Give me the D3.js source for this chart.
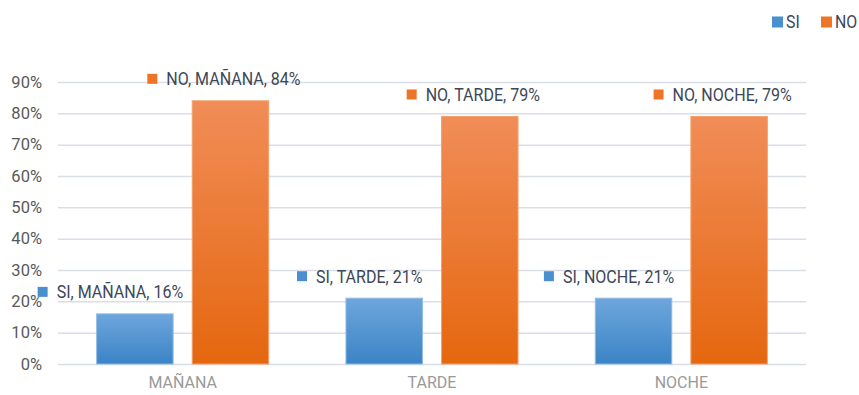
<!DOCTYPE html>
<html>
<head>
<meta charset="utf-8">
<script src="https://cdn.jsdelivr.net/npm/d3@7"></script>
<style>
  html, body { margin: 0; padding: 0; background: #fff; }
  svg { display: block; }
</style>
</head>
<body>
<svg id="chart" width="859" height="395"></svg>
<script>
// Turno del día y respuesta (SI / NO), en porcentaje
const categories = ["MAÑANA", "TARDE", "NOCHE"];
const seriesNames = ["SI", "NO"];
const siValues = [16, 21, 21];
const noValues = [84, 79, 79];
const yTicks = [0, 10, 20, 30, 40, 50, 60, 70, 80, 90];

const W = 859, H = 395;
const margin = { top: 82, right: 53, bottom: 31, left: 58 };
const svg = d3.select("#chart");
const innerW = W - margin.left - margin.right;
const innerH = H - margin.top - margin.bottom;
const font = "Roboto, 'Noto Sans', sans-serif";
const inkColor = "#3e4757";

const x = d3.scaleBand().domain(categories).range([margin.left, margin.left + innerW]).paddingInner(0.31).paddingOuter(0.155);
const xs = d3.scaleBand().domain(seriesNames).range([0, x.bandwidth()]).paddingInner(0.2);
const y = d3.scaleLinear().domain([0, 90]).range([margin.top + innerH, margin.top]);

const colors = {
  SI: { top: "#6ea6dc", bottom: "#3b84c6", mark: "#4a8fd0", edge: "#8dbbe6" },
  NO: { top: "#f18d58", bottom: "#e5670f", mark: "#ee7427", edge: "#f3a06c" }
};

// Condensed look: squeeze text horizontally to a given ratio of its natural width
function condense(sel, ratio) {
  sel.each(function() {
    const w = this.getComputedTextLength();
    d3.select(this).attr("textLength", w * ratio).attr("lengthAdjust", "spacingAndGlyphs");
  });
}

const defs = svg.append("defs");
seriesNames.forEach(s => {
  const g = defs.append("linearGradient").attr("id", "grad-" + s)
    .attr("x1", 0).attr("y1", 0).attr("x2", 0).attr("y2", 1);
  g.append("stop").attr("offset", "0%").attr("stop-color", colors[s].top);
  g.append("stop").attr("offset", "100%").attr("stop-color", colors[s].bottom);
});

// Gridlines and y tick labels
const yAxis = d3.axisLeft(y).tickValues(yTicks).tickFormat(d => d + "%").tickSize(-innerW).tickPadding(16);
const ga = svg.append("g").attr("transform", `translate(${margin.left},0)`).call(yAxis);
ga.select(".domain").remove();
ga.selectAll(".tick line").attr("stroke", "#d9dee8").attr("stroke-width", 1.5);
ga.selectAll(".tick text").attr("fill", "#595959").style("font-family", font).style("font-size", "16.5px");

// Category labels
const xAxis = d3.axisBottom(x).tickSize(0).tickPadding(13);
const gx = svg.append("g").attr("transform", `translate(0,${margin.top + innerH})`).call(xAxis);
gx.select(".domain").remove();
gx.selectAll(".tick text").attr("fill", "#9a9a9a").style("font-family", font).style("font-size", "16px");

const data = [];
categories.forEach((c, i) => {
  data.push({ cat: c, series: "SI", value: siValues[i] });
  data.push({ cat: c, series: "NO", value: noValues[i] });
});

// Bars
svg.append("g").selectAll("rect").data(data).join("rect")
  .attr("x", d => x(d.cat) + xs(d.series))
  .attr("y", d => y(d.value))
  .attr("width", xs.bandwidth())
  .attr("height", d => y(0) - y(d.value))
  .attr("fill", d => `url(#grad-${d.series})`)
  .attr("stroke", d => colors[d.series].edge)
  .attr("stroke-width", 1);

// Data labels with small colour markers
const labelShift = { SI: -24, NO: -6 };
const lg = svg.append("g").selectAll("g").data(data).join("g")
  .attr("transform", d => `translate(${x(d.cat) + xs(d.series) + xs.bandwidth() / 2 + labelShift[d.series]},${y(d.value) - 22})`);
lg.append("text")
  .attr("text-anchor", "middle")
  .attr("dx", 9)
  .attr("dy", "0.36em")
  .attr("fill", inkColor)
  .style("font-family", font)
  .style("font-size", "18px")
  .text(d => `${d.series}, ${d.cat}, ${d.value}%`)
  .call(condense, 0.89);
lg.each(function(d) {
  const g = d3.select(this);
  const bb = g.select("text").node().getBBox();
  g.append("rect")
    .attr("x", bb.x - 19).attr("y", -5)
    .attr("width", 10).attr("height", 10)
    .attr("fill", colors[d.series].mark);
});

// Legend
const legend = svg.append("g").attr("transform", "translate(772,22)");
const legendItems = legend.selectAll("g").data(seriesNames).join("g")
  .attr("transform", (d, i) => `translate(${i * 49},0)`);
legendItems.append("rect").attr("x", 0).attr("y", -5.5).attr("width", 11).attr("height", 11)
  .attr("fill", d => colors[d].mark);
legendItems.append("text").attr("x", 14).attr("dy", "0.36em")
  .attr("fill", inkColor)
  .style("font-family", font).style("font-size", "18px")
  .text(d => d)
  .call(condense, 0.88);
</script>
</body>
</html>
